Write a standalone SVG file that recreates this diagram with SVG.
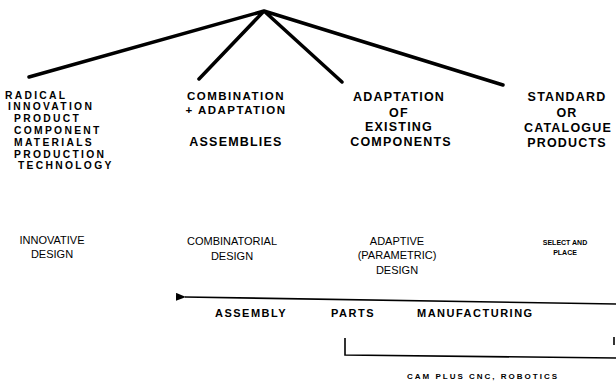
<svg xmlns="http://www.w3.org/2000/svg" width="616" height="383" viewBox="0 0 616 383">
<style>
text{font-family:"Liberation Sans",Arial,sans-serif;font-weight:bold;fill:#000}
.h{font-size:12.5px;letter-spacing:1.2px}
.h2{font-size:11.5px;letter-spacing:1.5px}
.r{font-size:10.3px;letter-spacing:2.3px}
.m{font-size:11px;font-weight:normal}
.b{font-size:11px;letter-spacing:1.5px}
.s{font-size:7px}
.cam{font-size:8px;letter-spacing:2px}
.c{text-anchor:middle}
.tree{stroke:#000;stroke-width:3.5;stroke-linecap:round;fill:none}
.ln{stroke:#000;stroke-width:1.6;fill:none}
</style>
<defs>
<marker id="ah" markerWidth="10" markerHeight="8" refX="1" refY="4" orient="auto" markerUnits="userSpaceOnUse">
<path d="M10,0 L0,4 L10,8 Z" fill="#000"/>
</marker>
</defs>
<rect width="616" height="383" fill="#fff"/>
<g id="connectors">
<path class="tree" d="M264,11 L29,77 M264,11 L199,79 M264,11 L342,82 M264,11 L503,85"/>
<path class="ln" d="M616,304 L185,297" marker-end="url(#ah)"/>
<path class="ln" d="M345,338 L345,355 L616,358"/>
<path class="ln" d="M614,337 L614,345"/>
</g>
<g id="radical">
<text class="r" x="5" y="98.5">RADICAL</text>
<text class="r" x="8" y="110.3">INNOVATION</text>
<text class="r" x="14" y="122.1">PRODUCT</text>
<text class="r" x="14" y="133.9">COMPONENT</text>
<text class="r" x="14" y="145.7">MATERIALS</text>
<text class="r" x="14" y="157.5">PRODUCTION</text>
<text class="r" x="18" y="169.3">TECHNOLOGY</text>
</g>
<g id="combination">
<text class="h2 c" x="236" y="100">COMBINATION</text>
<text class="h2 c" x="236" y="113.5">+ ADAPTATION</text>
<text class="h c" x="236" y="146">ASSEMBLIES</text>
</g>
<g id="adaptation">
<text class="h c" x="399" y="101">ADAPTATION</text>
<text class="h c" x="399" y="117">OF</text>
<text class="h c" x="399" y="131">EXISTING</text>
<text class="h c" x="401" y="146">COMPONENTS</text>
</g>
<g id="standard">
<text class="h c" x="567" y="101">STANDARD</text>
<text class="h c" x="567" y="117">OR</text>
<text class="h c" x="568" y="132">CATALOGUE</text>
<text class="h c" x="567" y="147">PRODUCTS</text>
</g>
<g id="innovative">
<text class="m c" x="52" y="244">INNOVATIVE</text>
<text class="m c" x="52" y="258">DESIGN</text>
</g>
<g id="combinatorial">
<text class="m c" x="232" y="245">COMBINATORIAL</text>
<text class="m c" x="232" y="260">DESIGN</text>
</g>
<g id="adaptive">
<text class="m c" x="397" y="245">ADAPTIVE</text>
<text class="m c" x="397" y="259">(PARAMETRIC)</text>
<text class="m c" x="397" y="274">DESIGN</text>
</g>
<g id="select">
<text class="s c" x="565" y="245">SELECT AND</text>
<text class="s c" x="565" y="255">PLACE</text>
</g>
<g id="flow">
<text class="b" x="215" y="317">ASSEMBLY</text>
<text class="b" x="331" y="317">PARTS</text>
<text class="b" x="417" y="317">MANUFACTURING</text>
<text class="cam" x="407" y="379">CAM PLUS CNC, ROBOTICS</text>
</g>
</svg>
